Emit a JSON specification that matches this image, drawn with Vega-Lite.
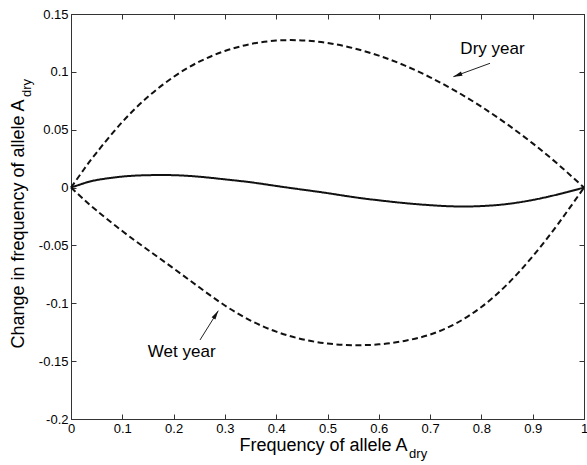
{
  "$schema": "https://vega.github.io/schema/vega-lite/v6.json",
  "width": 513,
  "height": 405,
  "autosize": "none",
  "padding": {"left": 71, "top": 14, "right": 3, "bottom": 46},
  "background": "white",
  "config": {
    "view": {"stroke": "#333", "strokeWidth": 1},
    "font": "Liberation Sans",
    "axis": {
      "grid": false,
      "labelFont": "Liberation Sans",
      "labelFontSize": 13,
      "labelColor": "#000",
      "titleFont": "Liberation Sans",
      "titleFontSize": 18,
      "titleFontWeight": "normal",
      "titleColor": "#000",
      "domainColor": "#333",
      "tickColor": "#333",
      "tickSize": -5,
      "labelPadding": 8,
      "labelFlush": false,
      "labelOverlap": false
    }
  },
  "datasets": {
    "curves": [
      {"series": "Dry year", "p": 0, "dp": 0},
      {"series": "Dry year", "p": 0.025, "dp": 0.0156},
      {"series": "Dry year", "p": 0.05, "dp": 0.0303},
      {"series": "Dry year", "p": 0.1, "dp": 0.0567},
      {"series": "Dry year", "p": 0.15, "dp": 0.0784},
      {"series": "Dry year", "p": 0.2, "dp": 0.0957},
      {"series": "Dry year", "p": 0.25, "dp": 0.1088},
      {"series": "Dry year", "p": 0.3, "dp": 0.1180},
      {"series": "Dry year", "p": 0.35, "dp": 0.1240},
      {"series": "Dry year", "p": 0.4, "dp": 0.1270},
      {"series": "Dry year", "p": 0.45, "dp": 0.1272},
      {"series": "Dry year", "p": 0.5, "dp": 0.1250},
      {"series": "Dry year", "p": 0.55, "dp": 0.1205},
      {"series": "Dry year", "p": 0.6, "dp": 0.1140},
      {"series": "Dry year", "p": 0.65, "dp": 0.1056},
      {"series": "Dry year", "p": 0.7, "dp": 0.0953},
      {"series": "Dry year", "p": 0.75, "dp": 0.0834},
      {"series": "Dry year", "p": 0.8, "dp": 0.0699},
      {"series": "Dry year", "p": 0.85, "dp": 0.0548},
      {"series": "Dry year", "p": 0.9, "dp": 0.0382},
      {"series": "Dry year", "p": 0.95, "dp": 0.0199},
      {"series": "Dry year", "p": 1, "dp": 0},
      {"series": "Wet year", "p": 0, "dp": 0},
      {"series": "Wet year", "p": 0.025, "dp": -0.0102},
      {"series": "Wet year", "p": 0.05, "dp": -0.0199},
      {"series": "Wet year", "p": 0.1, "dp": -0.0376},
      {"series": "Wet year", "p": 0.15, "dp": -0.0539},
      {"series": "Wet year", "p": 0.2, "dp": -0.0699},
      {"series": "Wet year", "p": 0.25, "dp": -0.0862},
      {"series": "Wet year", "p": 0.3, "dp": -0.1019},
      {"series": "Wet year", "p": 0.35, "dp": -0.1149},
      {"series": "Wet year", "p": 0.4, "dp": -0.1245},
      {"series": "Wet year", "p": 0.45, "dp": -0.1310},
      {"series": "Wet year", "p": 0.5, "dp": -0.1348},
      {"series": "Wet year", "p": 0.55, "dp": -0.1362},
      {"series": "Wet year", "p": 0.6, "dp": -0.1355},
      {"series": "Wet year", "p": 0.65, "dp": -0.1325},
      {"series": "Wet year", "p": 0.7, "dp": -0.1270},
      {"series": "Wet year", "p": 0.75, "dp": -0.1175},
      {"series": "Wet year", "p": 0.8, "dp": -0.1032},
      {"series": "Wet year", "p": 0.85, "dp": -0.0838},
      {"series": "Wet year", "p": 0.9, "dp": -0.0594},
      {"series": "Wet year", "p": 0.95, "dp": -0.0311},
      {"series": "Wet year", "p": 1, "dp": 0},
      {"series": "Mean", "p": 0, "dp": 0},
      {"series": "Mean", "p": 0.025, "dp": 0.0037},
      {"series": "Mean", "p": 0.05, "dp": 0.0065},
      {"series": "Mean", "p": 0.1, "dp": 0.0095},
      {"series": "Mean", "p": 0.15, "dp": 0.0107},
      {"series": "Mean", "p": 0.2, "dp": 0.0107},
      {"series": "Mean", "p": 0.25, "dp": 0.0094},
      {"series": "Mean", "p": 0.3, "dp": 0.0071},
      {"series": "Mean", "p": 0.35, "dp": 0.0046},
      {"series": "Mean", "p": 0.4, "dp": 0.0014},
      {"series": "Mean", "p": 0.45, "dp": -0.0017},
      {"series": "Mean", "p": 0.5, "dp": -0.0048},
      {"series": "Mean", "p": 0.55, "dp": -0.0082},
      {"series": "Mean", "p": 0.6, "dp": -0.0110},
      {"series": "Mean", "p": 0.65, "dp": -0.0134},
      {"series": "Mean", "p": 0.7, "dp": -0.0152},
      {"series": "Mean", "p": 0.75, "dp": -0.0163},
      {"series": "Mean", "p": 0.8, "dp": -0.0160},
      {"series": "Mean", "p": 0.85, "dp": -0.0142},
      {"series": "Mean", "p": 0.9, "dp": -0.0107},
      {"series": "Mean", "p": 0.95, "dp": -0.0058},
      {"series": "Mean", "p": 1, "dp": 0}
    ],
    "notes": [
      {"label": "Dry year", "tx": 0.8216, "ty": 0.1154, "ax": 0.8168, "ay": 0.1074, "hx": 0.7452, "hy": 0.0958},
      {"label": "Wet year", "tx": 0.2158, "ty": -0.1464, "ax": 0.2515, "ay": -0.1317, "hx": 0.2871, "hy": -0.1064}
    ],
    "subscripts": [
      {"sub": "dry", "axis": "x", "sx": 0.659, "sy": -0.2337},
      {"sub": "dry", "axis": "y", "sx": -0.078, "sy": 0.0783}
    ]
  },
  "layer": [
    {
      "data": {"name": "curves"},
      "mark": {"type": "line", "strokeWidth": 2, "interpolate": "natural", "color": "#111"},
      "encoding": {
        "x": {
          "field": "p", "type": "quantitative",
          "scale": {"domain": [0, 1], "nice": false, "zero": false},
          "axis": {
            "orient": "bottom",
            "values": [0, 0.1, 0.2, 0.3, 0.4, 0.5, 0.6, 0.7, 0.8, 0.9, 1],
            "format": "~g",
            "title": "Frequency of allele A",
            "titleX": 252, "titleY": 31,
            "titleBaseline": "alphabetic", "titleAlign": "center"
          }
        },
        "y": {
          "field": "dp", "type": "quantitative",
          "scale": {"domain": [-0.2, 0.15], "nice": false, "zero": false},
          "axis": {
            "orient": "left",
            "values": [-0.2, -0.15, -0.1, -0.05, 0, 0.05, 0.1, 0.15],
            "format": "~g",
            "labelExpr": "replace(datum.label, '\u2212', '-')",
            "title": "Change in frequency of allele A",
            "titleAngle": 270,
            "titleX": -48, "titleY": 209.5,
            "titleBaseline": "alphabetic", "titleAlign": "center"
          }
        },
        "detail": {"field": "series"},
        "strokeDash": {
          "field": "series", "type": "nominal",
          "scale": {"domain": ["Dry year", "Wet year", "Mean"], "range": [[6, 3.5], [6, 3.5], [1, 0]]},
          "legend": null
        }
      }
    },
    {
      "data": {"name": "curves"},
      "mark": {"type": "line", "opacity": 0},
      "encoding": {
        "x": {
          "field": "p", "type": "quantitative",
          "scale": {"domain": [0, 1], "nice": false, "zero": false},
          "axis": {"orient": "top", "labels": false, "title": null, "values": [0, 0.1, 0.2, 0.3, 0.4, 0.5, 0.6, 0.7, 0.8, 0.9, 1]}
        },
        "y": {
          "field": "dp", "type": "quantitative",
          "scale": {"domain": [-0.2, 0.15], "nice": false, "zero": false},
          "axis": {"orient": "right", "labels": false, "title": null, "values": [-0.2, -0.15, -0.1, -0.05, 0, 0.05, 0.1, 0.15]}
        },
        "detail": {"field": "series"}
      }
    },
    {
      "data": {"name": "notes"},
      "mark": {"type": "rule", "strokeWidth": 1, "color": "#222"},
      "encoding": {
        "x": {"field": "ax", "type": "quantitative", "scale": {"domain": [0, 1], "nice": false, "zero": false}, "axis": null},
        "y": {"field": "ay", "type": "quantitative", "scale": {"domain": [-0.2, 0.15], "nice": false, "zero": false}, "axis": null},
        "x2": {"field": "hx"},
        "y2": {"field": "hy"}
      }
    },
    {
      "data": {"name": "notes"},
      "transform": [{"filter": "datum.label == 'Dry year'"}],
      "mark": {"type": "point", "shape": "M0,0L-0.5,2L0.5,2Z", "filled": true, "size": 81, "angle": 250, "color": "#111", "opacity": 1},
      "encoding": {
        "x": {"field": "hx", "type": "quantitative", "scale": {"domain": [0, 1], "nice": false, "zero": false}, "axis": null},
        "y": {"field": "hy", "type": "quantitative", "scale": {"domain": [-0.2, 0.15], "nice": false, "zero": false}, "axis": null}
      }
    },
    {
      "data": {"name": "notes"},
      "transform": [{"filter": "datum.label == 'Wet year'"}],
      "mark": {"type": "point", "shape": "M0,0L-0.5,2L0.5,2Z", "filled": true, "size": 81, "angle": 32, "color": "#111", "opacity": 1},
      "encoding": {
        "x": {"field": "hx", "type": "quantitative", "scale": {"domain": [0, 1], "nice": false, "zero": false}, "axis": null},
        "y": {"field": "hy", "type": "quantitative", "scale": {"domain": [-0.2, 0.15], "nice": false, "zero": false}, "axis": null}
      }
    },
    {
      "data": {"name": "notes"},
      "mark": {"type": "text", "fontSize": 17, "font": "Liberation Sans", "align": "center", "baseline": "alphabetic", "color": "#000"},
      "encoding": {
        "x": {"field": "tx", "type": "quantitative", "scale": {"domain": [0, 1], "nice": false, "zero": false}, "axis": null},
        "y": {"field": "ty", "type": "quantitative", "scale": {"domain": [-0.2, 0.15], "nice": false, "zero": false}, "axis": null},
        "text": {"field": "label"}
      }
    },
    {
      "data": {"name": "subscripts"},
      "transform": [{"filter": "datum.axis == 'x'"}],
      "mark": {"type": "text", "fontSize": 13, "font": "Liberation Sans", "align": "left", "baseline": "alphabetic", "color": "#000"},
      "encoding": {
        "x": {"field": "sx", "type": "quantitative", "scale": {"domain": [0, 1], "nice": false, "zero": false}, "axis": null},
        "y": {"field": "sy", "type": "quantitative", "scale": {"domain": [-0.2, 0.15], "nice": false, "zero": false}, "axis": null},
        "text": {"field": "sub"}
      }
    },
    {
      "data": {"name": "subscripts"},
      "transform": [{"filter": "datum.axis == 'y'"}],
      "mark": {"type": "text", "fontSize": 13, "font": "Liberation Sans", "align": "left", "baseline": "alphabetic", "angle": 270, "color": "#000"},
      "encoding": {
        "x": {"field": "sx", "type": "quantitative", "scale": {"domain": [0, 1], "nice": false, "zero": false}, "axis": null},
        "y": {"field": "sy", "type": "quantitative", "scale": {"domain": [-0.2, 0.15], "nice": false, "zero": false}, "axis": null},
        "text": {"field": "sub"}
      }
    }
  ],
  "resolve": {"axis": {"x": "independent", "y": "independent"}}
}
